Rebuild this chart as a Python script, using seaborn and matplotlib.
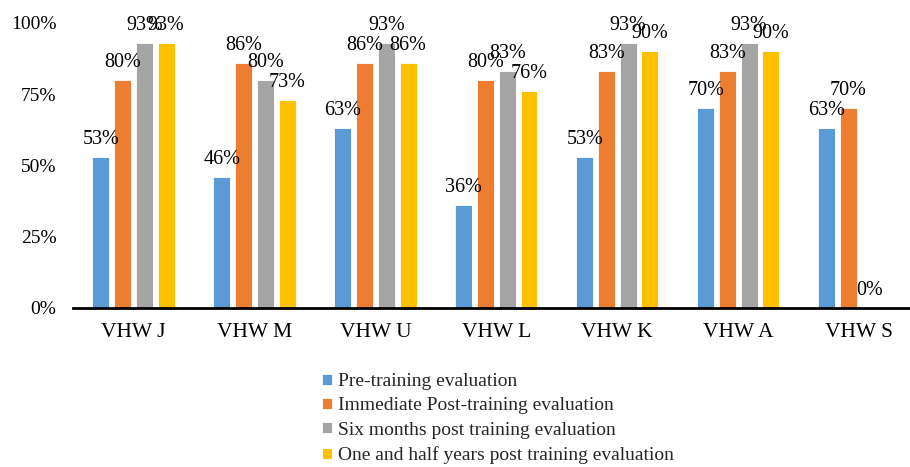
import numpy as np
import pandas as pd
import matplotlib
matplotlib.use("Agg")
import matplotlib.pyplot as plt
import seaborn as sns

sites = ["VHW J", "VHW M", "VHW U", "VHW L", "VHW K", "VHW A", "VHW S"]
series = ["Pre-training evaluation",
          "Immediate Post-training evaluation",
          "Six months post training evaluation",
          "One and half years post training evaluation"]
pre_training = [53, 46, 63, 36, 53, 70, 63]
immediate_post = [80, 86, 86, 80, 83, 83, 70]
six_months = [93, 80, 93, 83, 93, 93, 0]
one_half_years = [93, 73, 86, 76, 90, 90, np.nan]
colors = ["#5B9BD5", "#ED7D31", "#A5A5A5", "#FFC000"]
y_ticks = [0, 25, 50, 75, 100]

df = pd.DataFrame({
    "site": sites * 4,
    "series": [s for s in series for _ in sites],
    "value": pre_training + immediate_post + six_months + one_half_years,
})

sns.set_theme(style="white")
plt.rcParams["font.family"] = ["Liberation Serif", "DejaVu Serif"]

fig = plt.figure(figsize=(9.1, 4.67), dpi=100)
ax = fig.add_axes([73 / 910, 1 - 308 / 467, 1 - 73 / 910, 285 / 467])

sns.barplot(data=df, x="site", y="value", hue="series", hue_order=series,
            palette=colors, saturation=1, width=0.72, gap=0.22, errorbar=None,
            edgecolor="white", linewidth=0.6, ax=ax, legend=True)

for cont in ax.containers:
    ax.bar_label(cont, fmt=lambda v: f"{v:.0f}%", padding=6,
                 fontsize=14.5, color="black")

ax.set_ylim(0, 100)
ax.set_xlim(-0.5, 6.42)
ax.set_yticks(y_ticks)
ax.set_yticklabels([f"{t}%" for t in y_ticks])
ax.set_xlabel("")
ax.set_ylabel("")
ax.tick_params(axis="y", length=0, pad=12, labelsize=14, labelcolor="black")
ax.tick_params(axis="x", length=0, pad=11, labelsize=15.5, labelcolor="black")

for side in ["top", "right", "left"]:
    ax.spines[side].set_visible(False)
ax.spines["bottom"].set_color("black")
ax.spines["bottom"].set_linewidth(2)
ax.spines["bottom"].set_zorder(5)

handles, labels = ax.get_legend_handles_labels()
ax.get_legend().remove()
fig.legend(handles, labels, loc="upper left",
           bbox_to_anchor=(322 / 910, 1 - 373 / 467),
           frameon=False, fontsize=14, ncol=1,
           handlelength=0.5, handleheight=0.5, handletextpad=0.3,
           labelspacing=0.38, borderaxespad=0, borderpad=0)

fig.savefig("out.png", dpi=100)
